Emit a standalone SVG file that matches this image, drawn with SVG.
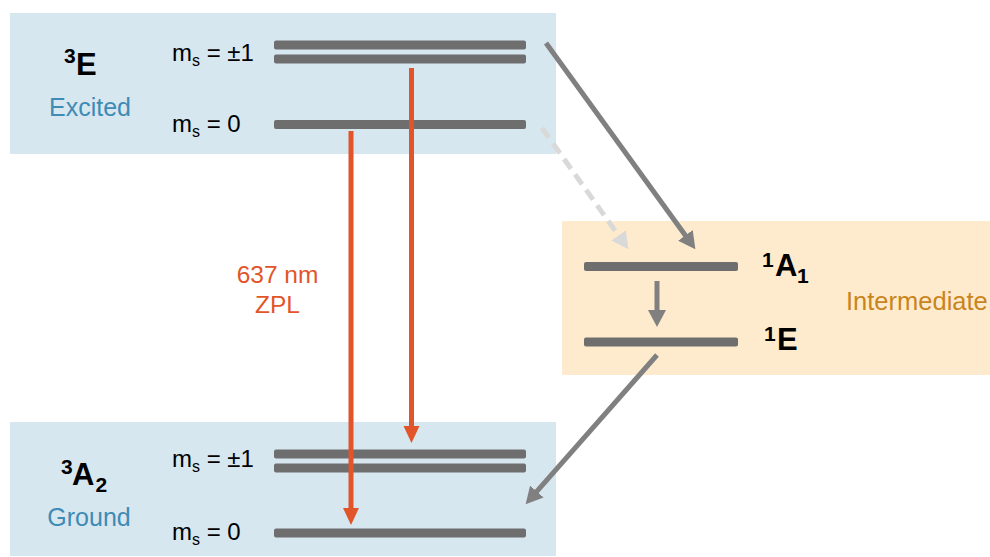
<svg xmlns="http://www.w3.org/2000/svg" width="990" height="557" viewBox="0 0 990 557">
<style>
text{font-family:"Liberation Sans",Arial,sans-serif}
.box{fill:#D7E7F0}
.ibox{fill:#FEEBCD}
.lvl{fill:#6E6E6E}
.ms{font-size:24px;fill:#000}
.sub{font-size:16px}
.term{font-weight:bold;fill:#000;font-size:31px}
.sup{font-size:21px}
.blue{font-size:25px;fill:#3E8BB5}
.red{stroke:#E2552A;stroke-width:5;fill:none}
.gray{stroke:#808080;stroke-width:5;fill:none}
.dash{stroke:#D9D9D9;stroke-width:5;fill:none;stroke-dasharray:12 7}
</style>
<defs>
<marker id="hr" markerUnits="userSpaceOnUse" markerWidth="18" markerHeight="18" refX="1" refY="8" orient="auto" viewBox="0 0 18 16"><path d="M0,0 L17,8 L0,16 Z" fill="#E2552A"/></marker>
<marker id="hg" markerUnits="userSpaceOnUse" markerWidth="18" markerHeight="18" refX="1" refY="9" orient="auto" viewBox="0 0 18 18"><path d="M0,0 L17,9 L0,18 Z" fill="#808080"/></marker>
<marker id="hd" markerUnits="userSpaceOnUse" markerWidth="18" markerHeight="18" refX="1" refY="9" orient="auto" viewBox="0 0 18 18"><path d="M0,0 L17,9 L0,18 Z" fill="#D9D9D9"/></marker>
</defs>

<g id="excited">
<rect class="box" x="10" y="13" width="546" height="141"/>
<text class="term"><tspan class="sup" x="64" y="63">3</tspan><tspan x="76" y="75">E</tspan></text>
<text class="blue" x="90" y="116" text-anchor="middle">Excited</text>
<text class="ms" x="172" y="61">m<tspan class="sub" dy="5">s</tspan><tspan dy="-5"> = ±1</tspan></text>
<text class="ms" x="172" y="132">m<tspan class="sub" dy="5">s</tspan><tspan dy="-5"> = 0</tspan></text>
<rect class="lvl" x="274" y="40.5" width="252" height="9" rx="2"/>
<rect class="lvl" x="274" y="54.5" width="252" height="9" rx="2"/>
<rect class="lvl" x="274" y="120" width="252" height="9" rx="2"/>
</g>

<g id="ground">
<rect class="box" x="10" y="422" width="546" height="134"/>
<text class="term"><tspan class="sup" x="61" y="474">3</tspan><tspan x="72" y="485">A</tspan><tspan class="sup" x="95.5" y="492">2</tspan></text>
<text class="blue" x="89" y="526" text-anchor="middle">Ground</text>
<text class="ms" x="172" y="467">m<tspan class="sub" dy="5">s</tspan><tspan dy="-5"> = ±1</tspan></text>
<text class="ms" x="172" y="540">m<tspan class="sub" dy="5">s</tspan><tspan dy="-5"> = 0</tspan></text>
<rect class="lvl" x="274" y="449.5" width="252" height="9" rx="2"/>
<rect class="lvl" x="274" y="463.5" width="252" height="9" rx="2"/>
<rect class="lvl" x="274" y="528.5" width="252" height="9" rx="2"/>
</g>

<g id="intermediate">
<rect class="ibox" x="562" y="221" width="428" height="154"/>
<text class="term"><tspan class="sup" x="762" y="267">1</tspan><tspan x="775" y="276">A</tspan><tspan class="sup" x="797" y="283">1</tspan></text>
<text class="term"><tspan class="sup" x="764" y="341">1</tspan><tspan x="777" y="350">E</tspan></text>
<text x="846" y="310" font-size="25.5" fill="#C9851C">Intermediate</text>
<rect class="lvl" x="584" y="262" width="154" height="9" rx="2"/>
<rect class="lvl" x="584" y="337.5" width="154" height="9" rx="2"/>
</g>

<g id="connectors">
<line class="red" x1="351" y1="131" x2="351" y2="509" marker-end="url(#hr)"/>
<line class="red" x1="411.5" y1="68" x2="411.5" y2="427" marker-end="url(#hr)"/>
<text x="277.5" y="283" font-size="24.5" fill="#E2552A" text-anchor="middle">637 nm</text>
<text x="277.5" y="313" font-size="24.5" fill="#E2552A" text-anchor="middle">ZPL</text>
<line class="gray" x1="546" y1="43" x2="686" y2="236.2" marker-end="url(#hg)"/>
<line class="dash" x1="542" y1="128" x2="619.1" y2="236.2" marker-end="url(#hd)"/>
<line class="gray" x1="657" y1="281" x2="657" y2="311" marker-end="url(#hg)"/>
<line class="gray" x1="657" y1="355" x2="536.2" y2="492.2" marker-end="url(#hg)"/>
</g>
</svg>
